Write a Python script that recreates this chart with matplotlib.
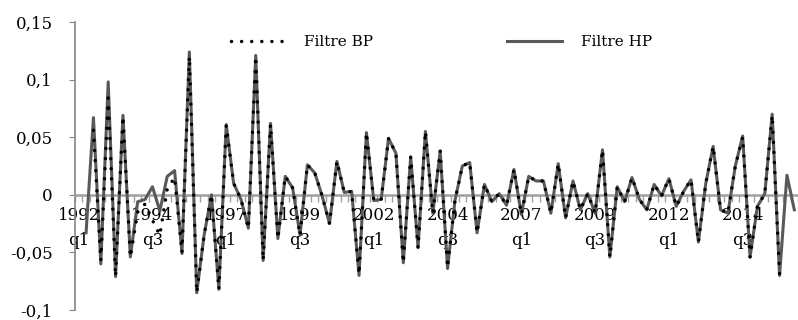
import numpy as np
import matplotlib.pyplot as plt

plt.rcParams['font.family'] = 'DejaVu Serif'

# quarterly cycle estimates, 1992 q1 .. 2016 q2
hp_filter = [np.nan, -0.033, 0.067, -0.060, 0.098, -0.071, 0.069, -0.054, -0.006, -0.004,
             0.007, -0.014, 0.016, 0.021, -0.051, 0.124, -0.085, -0.035, 0.000, -0.082,
             0.061, 0.010, -0.004, -0.029, 0.121, -0.057, 0.062, -0.038, 0.016, 0.006,
             -0.035, 0.026, 0.019, -0.001, -0.025, 0.029, 0.002, 0.003, -0.070, 0.054,
             -0.005, -0.004, 0.049, 0.036, -0.059, 0.033, -0.046, 0.055, -0.016, 0.038,
             -0.064, -0.005, 0.025, 0.028, -0.033, 0.009, -0.006, 0.001, -0.009, 0.022,
             -0.017, 0.016, 0.012, 0.012, -0.016, 0.027, -0.020, 0.012, -0.013, 0.001,
             -0.016, 0.039, -0.054, 0.007, -0.006, 0.015, -0.004, -0.013, 0.009, -0.001,
             0.014, -0.010, 0.003, 0.013, -0.041, 0.010, 0.042, -0.013, -0.016, 0.025,
             0.051, -0.054, -0.010, 0.001, 0.070, -0.070, 0.017, -0.013]

bp_filter = [np.nan, np.nan, 0.056, -0.057, 0.084, -0.071, 0.068, -0.054, -0.015, -0.008,
             -0.022, -0.035, 0.005, 0.015, -0.050, 0.120, -0.085, -0.035, 0.000, -0.082,
             0.060, 0.010, -0.004, -0.029, 0.120, -0.057, 0.061, -0.038, 0.016, 0.006,
             -0.035, 0.026, 0.019, -0.001, -0.025, 0.029, 0.002, 0.003, -0.069, 0.054,
             -0.005, -0.004, 0.049, 0.036, -0.059, 0.033, -0.046, 0.055, -0.016, 0.038,
             -0.063, -0.005, 0.025, 0.028, -0.033, 0.009, -0.006, 0.001, -0.009, 0.022,
             -0.017, 0.016, 0.012, 0.012, -0.016, 0.027, -0.020, 0.012, -0.013, 0.001,
             -0.016, 0.039, -0.054, 0.007, -0.006, 0.015, -0.004, -0.013, 0.009, -0.001,
             0.014, -0.010, 0.003, 0.013, -0.041, 0.010, 0.042, -0.013, -0.016, 0.025,
             0.050, -0.054, -0.010, 0.001, 0.069, -0.069, np.nan, np.nan]

period_labels = ["1992\nq1", "1994\nq3", "1997\nq1", "1999\nq3", "2002\nq1",
                 "2004\nq3", "2007\nq1", "2009\nq3", "2012\nq1", "2014\nq3"]
yticks = [-0.1, -0.05, 0, 0.05, 0.1, 0.15]
ytick_labels = ["-0,1", "-0,05", "0", "0,05", "0,1", "0,15"]

fig = plt.figure(figsize=(7.98, 3.2), dpi=100)
ax = fig.add_axes([75 / 798, 10 / 320, 723 / 798, 288 / 320])

x = np.arange(len(hp_filter))
l_hp, = ax.plot(x, hp_filter, color='#595959', lw=2.2, zorder=3)
l_bp, = ax.plot(x, bp_filter, color='black', lw=2.5, linestyle=(0, (0.01, 2.9)),
                dash_capstyle='round', zorder=4)

ax.set_xlim(-0.5, len(hp_filter) - 0.5)
ax.set_ylim(-0.1, 0.15)

# axes look
for s in ['top', 'right']:
    ax.spines[s].set_visible(False)
ax.spines['left'].set_color('#868686')
ax.spines['left'].set_linewidth(1.2)
ax.spines['bottom'].set_position(('data', 0))
ax.spines['bottom'].set_color('#a0a0a0')
ax.spines['bottom'].set_linewidth(1.8)

ax.set_yticks(yticks)
ax.set_yticklabels(ytick_labels, fontsize=12)
ax.tick_params(axis='y', length=4, color='#868686', pad=12)

ax.set_xticks(np.arange(0, len(hp_filter), 10))
ax.set_xticklabels(period_labels, fontsize=12, linespacing=1.6)
ax.set_xticks(np.arange(-0.5, len(hp_filter), 1), minor=True)
ax.tick_params(axis='x', which='major', length=0, pad=9)
ax.tick_params(axis='x', which='minor', length=5, color='#a0a0a0', width=1)

ax.legend([l_bp, l_hp], ["Filtre BP", "Filtre HP"], loc='center',
          bbox_to_anchor=(0.553, 0.869), bbox_transform=fig.transFigure,
          ncol=2, frameon=False, fontsize=11, handlelength=3.6,
          columnspacing=8.8, handletextpad=1.2)

plt.savefig("out.png", dpi=100)
